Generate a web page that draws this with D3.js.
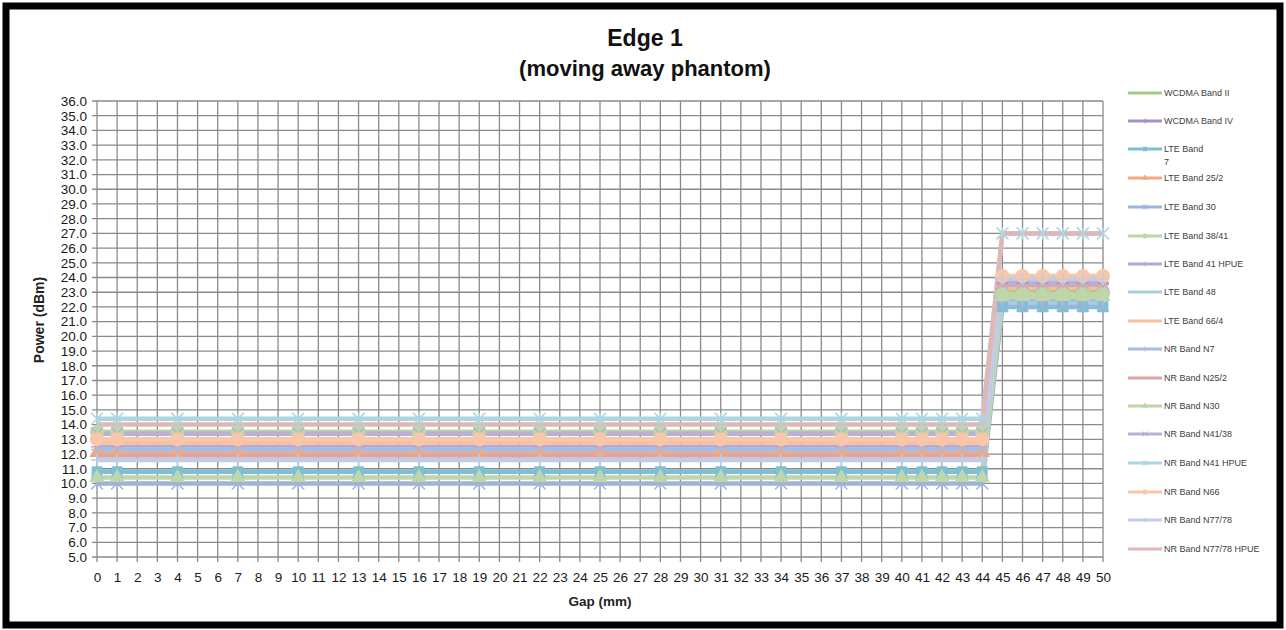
<!DOCTYPE html>
<html>
<head>
<meta charset="utf-8">
<script src="https://cdn.jsdelivr.net/npm/d3@7/dist/d3.min.js"></script>
<style>
  body { margin: 0; background: #fff; }
  svg { display: block; font-family: "Liberation Sans", Arial, sans-serif; }
</style>
</head>
<body>
<svg id="chart" width="1286" height="630"></svg>
<script>
// x categories (Gap in mm) shown on the axis
var gapTicks = [0,1,2,3,4,5,6,7,8,9,10,11,12,13,14,15,16,17,18,19,20,21,22,23,24,25,
  26,27,28,29,30,31,32,33,34,35,36,37,38,39,40,41,42,43,44,45,46,47,48,49,50];
// gaps where something was measured
var gapPoints = [0,1,4,7,10,13,16,19,22,25,28,31,34,37,40,41,42,43,44,45,46,47,48,49,50];
var powerTicks = [5,6,7,8,9,10,11,12,13,14,15,16,17,18,19,20,21,22,23,24,25,26,27,28,29,30,31,32,33,34,35,36];

var seriesNames = ["WCDMA Band II","WCDMA Band IV","LTE Band 7","LTE Band 25/2","LTE Band 30",
  "LTE Band 38/41","LTE Band 41 HPUE","LTE Band 48","LTE Band 66/4","NR Band N7","NR Band N25/2",
  "NR Band N30","NR Band N41/38","NR Band N41 HPUE","NR Band N66","NR Band N77/78","NR Band N77/78 HPUE"];

var wcdmaII     = [13.5,13.5,13.5,13.5,13.5,13.5,13.5,13.5,13.5,13.5,13.5,13.5,13.5,13.5,13.5,13.5,13.5,13.5,13.5,23.0,23.0,23.0,23.0,23.0,23.0];
var wcdmaIV     = [13.4,13.4,13.4,13.4,13.4,13.4,13.4,13.4,13.4,13.4,13.4,13.4,13.4,13.4,13.4,13.4,13.4,13.4,13.4,23.6,23.6,23.6,23.6,23.6,23.6];
var lte7        = [10.8,10.8,10.8,10.8,10.8,10.8,10.8,10.8,10.8,10.8,10.8,10.8,10.8,10.8,10.8,10.8,10.8,10.8,10.8,22.0,22.0,22.0,22.0,22.0,22.0];
var lte25       = [12.1,12.1,12.1,12.1,12.1,12.1,12.1,12.1,12.1,12.1,12.1,12.1,12.1,12.1,12.1,12.1,12.1,12.1,12.1,23.3,23.3,23.3,23.3,23.3,23.3];
var lte30       = [10.0,10.0,10.0,10.0,10.0,10.0,10.0,10.0,10.0,10.0,10.0,10.0,10.0,10.0,10.0,10.0,10.0,10.0,10.0,22.1,22.1,22.1,22.1,22.1,22.1];
var lte38       = [13.5,13.5,13.5,13.5,13.5,13.5,13.5,13.5,13.5,13.5,13.5,13.5,13.5,13.5,13.5,13.5,13.5,13.5,13.5,22.9,22.9,22.9,22.9,22.9,22.9];
var lte41hpue   = [12.5,12.5,12.5,12.5,12.5,12.5,12.5,12.5,12.5,12.5,12.5,12.5,12.5,12.5,12.5,12.5,12.5,12.5,12.5,23.7,23.7,23.7,23.7,23.7,23.7];
var lte48       = [12.3,12.3,12.3,12.3,12.3,12.3,12.3,12.3,12.3,12.3,12.3,12.3,12.3,12.3,12.3,12.3,12.3,12.3,12.3,22.3,22.3,22.3,22.3,22.3,22.3];
var lte66       = [12.8,12.8,12.8,12.8,12.8,12.8,12.8,12.8,12.8,12.8,12.8,12.8,12.8,12.8,12.8,12.8,12.8,12.8,12.8,23.3,23.3,23.3,23.3,23.3,23.3];
var nrN7        = [12.3,12.3,12.3,12.3,12.3,12.3,12.3,12.3,12.3,12.3,12.3,12.3,12.3,12.3,12.3,12.3,12.3,12.3,12.3,22.5,22.5,22.5,22.5,22.5,22.5];
var nrN25       = [11.9,11.9,11.9,11.9,11.9,11.9,11.9,11.9,11.9,11.9,11.9,11.9,11.9,11.9,11.9,11.9,11.9,11.9,11.9,23.5,23.5,23.5,23.5,23.5,23.5];
var nrN30       = [10.4,10.4,10.4,10.4,10.4,10.4,10.4,10.4,10.4,10.4,10.4,10.4,10.4,10.4,10.4,10.4,10.4,10.4,10.4,22.7,22.7,22.7,22.7,22.7,22.7];
var nrN41       = [13.4,13.4,13.4,13.4,13.4,13.4,13.4,13.4,13.4,13.4,13.4,13.4,13.4,13.4,13.4,13.4,13.4,13.4,13.4,23.6,23.6,23.6,23.6,23.6,23.6];
var nrN41hpue   = [14.4,14.4,14.4,14.4,14.4,14.4,14.4,14.4,14.4,14.4,14.4,14.4,14.4,14.4,14.4,14.4,14.4,14.4,14.4,27.0,27.0,27.0,27.0,27.0,27.0];
var nrN66       = [13.0,13.0,13.0,13.0,13.0,13.0,13.0,13.0,13.0,13.0,13.0,13.0,13.0,13.0,13.0,13.0,13.0,13.0,13.0,24.1,24.1,24.1,24.1,24.1,24.1];
var nrN77       = [11.6,11.6,11.6,11.6,11.6,11.6,11.6,11.6,11.6,11.6,11.6,11.6,11.6,11.6,11.6,11.6,11.6,11.6,11.6,23.9,23.9,23.9,23.9,23.9,23.9];
var nrN77hpue   = [14.0,14.0,14.0,14.0,14.0,14.0,14.0,14.0,14.0,14.0,14.0,14.0,14.0,14.0,14.0,14.0,14.0,14.0,14.0,27.0,27.0,27.0,27.0,27.0,27.0];

var seriesValues = [wcdmaII, wcdmaIV, lte7, lte25, lte30, lte38, lte41hpue, lte48, lte66,
  nrN7, nrN25, nrN30, nrN41, nrN41hpue, nrN66, nrN77, nrN77hpue];

var colors = ["#a7c986","#a592c4","#7dbfd3","#f6a97e","#9db4da","#bcd7a6","#b6a8d0","#a3d2de",
  "#f9bf9d","#a9bcdf","#dba5a4","#bfd6ab","#bbb0d3","#acd6e1","#f9c6aa","#c0cce5","#e0b7b7"];
var markers = ["none","plus","square","triangle","star","circle","plus","none","none",
  "plus","dash","triangle","x","star","circle","plus","none"];

var svg = d3.select("#chart");
var W = 1286, H = 630;

svg.append("rect").attr("x", 6).attr("y", 6).attr("width", W - 12).attr("height", H - 11)
  .attr("fill", "#fff").attr("stroke", "#000").attr("stroke-width", 7);

var x = d3.scalePoint().domain(gapTicks).range([97, 1103]);
var y = d3.scaleLinear().domain([5, 36]).range([557, 101]);

// grid
var grid = svg.append("g");
grid.selectAll("line.v").data(gapTicks).enter().append("line")
  .attr("x1", function (d) { return x(d); }).attr("x2", function (d) { return x(d); })
  .attr("y1", y(36)).attr("y2", y(5) + 5)
  .attr("stroke", "#8a8a8a").attr("stroke-width", 1.3);
grid.selectAll("line.h").data(powerTicks).enter().append("line")
  .attr("x1", x(0) - 5).attr("x2", x(50))
  .attr("y1", function (d) { return y(d); }).attr("y2", function (d) { return y(d); })
  .attr("stroke", "#8a8a8a").attr("stroke-width", 1.3);

// axes labels
var yAxis = d3.axisLeft(y).tickValues(powerTicks).tickFormat(d3.format(".1f")).tickSize(0).tickPadding(10);
var gy = svg.append("g").attr("transform", "translate(" + x(0) + ",0)").call(yAxis);
gy.select(".domain").remove();
gy.selectAll("text").attr("font-size", 13.5).attr("fill", "#1a1a1a").attr("font-family", "Liberation Sans, Arial, sans-serif");

var xAxis = d3.axisBottom(x).tickSize(0).tickPadding(15);
var gx = svg.append("g").attr("transform", "translate(0," + y(5) + ")").call(xAxis);
gx.select(".domain").remove();
gx.selectAll("text").attr("font-size", 13.5).attr("fill", "#1a1a1a").attr("font-family", "Liberation Sans, Arial, sans-serif");

// series
var line = d3.line()
  .x(function (d, i) { return x(gapPoints[i]); })
  .y(function (d) { return y(d); });

function markerPath(type, s) {
  var h = s / 2;
  if (type === "circle") return d3.symbol(d3.symbolCircle, s * s * 0.8)();
  if (type === "square") return d3.symbol(d3.symbolSquare, s * s * 0.8)();
  if (type === "triangle") return d3.symbol(d3.symbolTriangle, s * s * 0.7)();
  if (type === "plus") return "M" + (-h) + ",0L" + h + ",0M0," + (-h) + "L0," + h;
  if (type === "x") return "M" + (-h) + "," + (-h) + "L" + h + "," + h + "M" + (-h) + "," + h + "L" + h + "," + (-h);
  if (type === "dash") return "M" + (-h) + ",0L" + h + ",0";
  if (type === "star") return "M" + (-h) + "," + (-h) + "L" + h + "," + h + "M" + (-h) + "," + h + "L" + h + "," + (-h) + "M0," + (-h) + "L0," + h;
  return null;
}

var gs = svg.append("g");
seriesValues.forEach(function (vals, si) {
  gs.append("path").datum(vals).attr("d", line)
    .attr("fill", "none").attr("stroke", colors[si]).attr("stroke-width", 4.5)
    .attr("stroke-linejoin", "round");
});
seriesValues.forEach(function (vals, si) {
  var m = markers[si];
  if (m === "none") return;
  var p = markerPath(m, m === "circle" ? 14 : 12);
  var filled = (m === "circle" || m === "square" || m === "triangle");
  gs.selectAll(null).data(vals).enter().append("path")
    .attr("transform", function (d, i) { return "translate(" + x(gapPoints[i]) + "," + y(d) + ")"; })
    .attr("d", p)
    .attr("fill", filled ? colors[si] : "none")
    .attr("stroke", colors[si]).attr("stroke-width", filled ? 0 : 1.5);
});

// titles
svg.append("text").attr("x", 645).attr("y", 46).attr("text-anchor", "middle")
  .attr("font-size", 23).attr("font-weight", "bold").attr("fill", "#111").text("Edge 1");
svg.append("text").attr("x", 645).attr("y", 76).attr("text-anchor", "middle")
  .attr("font-size", 22).attr("font-weight", "bold").attr("fill", "#111").text("(moving away phantom)");
svg.append("text").attr("x", 600).attr("y", 606).attr("text-anchor", "middle")
  .attr("font-size", 13.5).attr("font-weight", "bold").attr("fill", "#222").text("Gap (mm)");
svg.append("text").attr("transform", "translate(44,320) rotate(-90)").attr("text-anchor", "middle")
  .attr("font-size", 14).attr("font-weight", "bold").attr("fill", "#222").text("Power (dBm)");

// legend
var legendY = [93,121,149,178,207,236,264,292,321,349,378,406,434,463,492,520,549];
var lg = svg.append("g");
seriesNames.forEach(function (name, i) {
  var ly = legendY[i];
  lg.append("line").attr("x1", 1128).attr("x2", 1162).attr("y1", ly).attr("y2", ly)
    .attr("stroke", colors[i]).attr("stroke-width", 3);
  if (markers[i] !== "none") {
    var filled = (markers[i] === "circle" || markers[i] === "square" || markers[i] === "triangle");
    lg.append("path").attr("transform", "translate(1145," + ly + ")").attr("d", markerPath(markers[i], 5))
      .attr("fill", filled ? colors[i] : "none").attr("stroke", colors[i]).attr("stroke-width", filled ? 0 : 1);
  }
  var t = lg.append("text").attr("x", 1164).attr("y", ly + 3).attr("font-size", 9).attr("fill", "#404040");
  if (name === "LTE Band 7") {
    t.append("tspan").attr("x", 1164).text("LTE Band");
    t.append("tspan").attr("x", 1164).attr("dy", 13).text("7");
  } else {
    t.text(name);
  }
});
</script>
</body>
</html>
